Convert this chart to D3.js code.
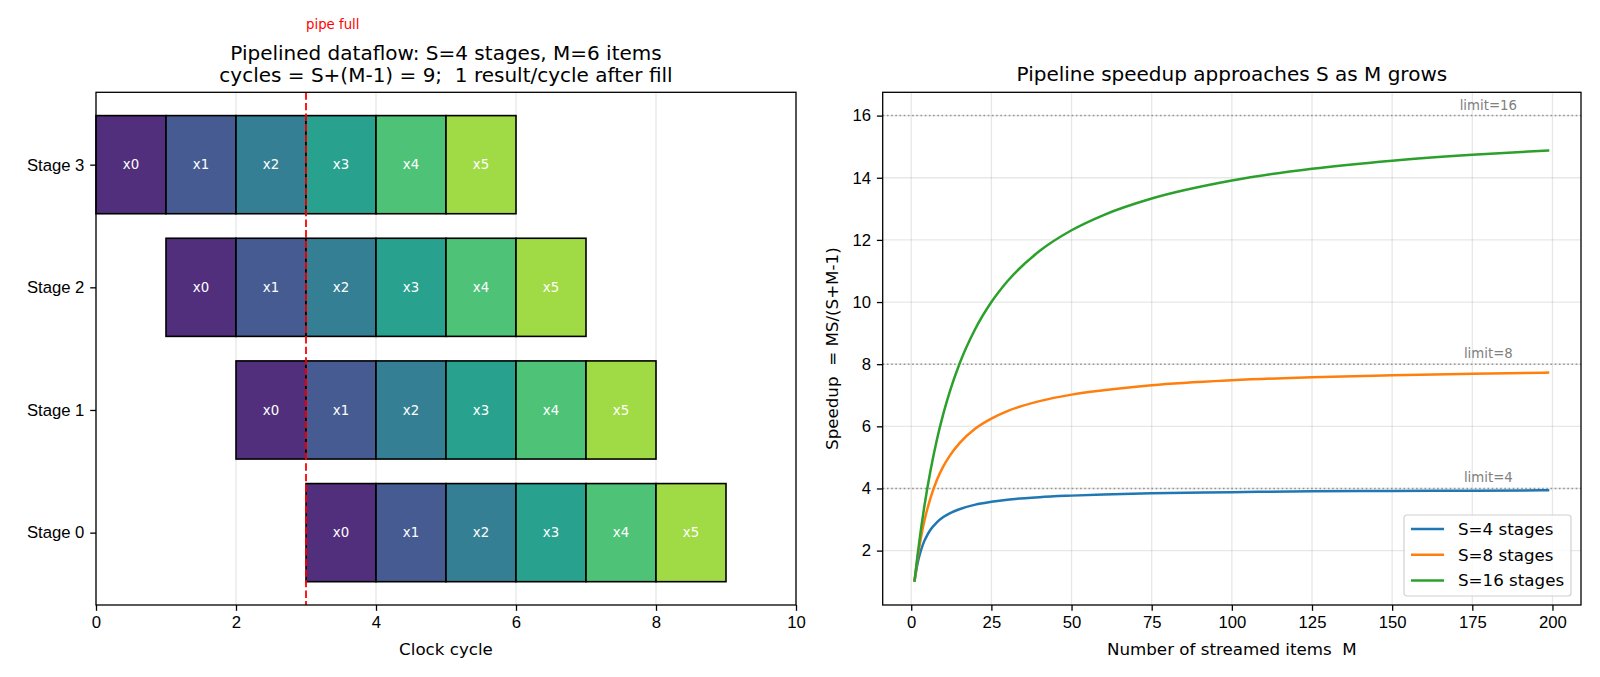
<!DOCTYPE html>
<html lang="en">
<head>
  <meta charset="UTF-8" />
  <title>Pipelined dataflow</title>
  <script src="https://d3js.org/d3.v7.min.js"></script>
  <style>
    body { margin: 0; padding: 0; background: #fff; }
    svg { display: block; font-family: 'DejaVu Sans', sans-serif; }
    .tick text { font-size: 16.7px; fill: #000; }
    .tick line { stroke: #000; stroke-width: 1.3; }
  </style>
</head>
<body>
  <svg width="1600" height="677"></svg>

  <script>
    // ---- left panel data
    const stages = ["Stage 0", "Stage 1", "Stage 2", "Stage 3"];
    const stageStart = [3, 2, 1, 0];          // first cycle for each stage
    const items = ["x0", "x1", "x2", "x3", "x4", "x5"];
    const cycleTicks = [0, 2, 4, 6, 8, 10];
    const pipeFull = 3;

    // ---- right panel data
    const mValues = [1, 2, 3, 4, 5, 6, 8, 10, 12, 15, 20, 25, 30, 40, 50, 60, 75, 100, 125, 150, 175, 199];
    const speedS4  = [1, 1.6, 2.0, 2.29, 2.5, 2.67, 2.91, 3.08, 3.2, 3.33, 3.48, 3.57, 3.64, 3.72, 3.77, 3.81, 3.85, 3.88, 3.91, 3.92, 3.93, 3.94];
    const speedS8  = [1, 1.78, 2.4, 2.91, 3.33, 3.69, 4.27, 4.71, 5.05, 5.45, 5.93, 6.25, 6.49, 6.81, 7.02, 7.16, 7.32, 7.48, 7.58, 7.64, 7.69, 7.73];
    const speedS16 = [1, 1.88, 2.67, 3.37, 4.0, 4.57, 5.57, 6.4, 7.11, 8.0, 9.14, 10.0, 10.67, 11.64, 12.31, 12.8, 13.33, 13.91, 14.29, 14.55, 14.74, 14.88];
    const seriesNames = ["S=4 stages", "S=8 stages", "S=16 stages"];
    const limits = [4, 8, 16];
    const mTicks = [0, 25, 50, 75, 100, 125, 150, 175, 200];
    const speedTicks = [2, 4, 6, 8, 10, 12, 14, 16];

    const svg = d3.select("svg");
    svg.append("rect").attr("width", 1600).attr("height", 677).attr("fill", "#fff");

    const plotTop = 92.3, plotBottom = 605;
    const TICK = 5.8;
    const itemColor = d3.scaleOrdinal().domain(items)
      .range(d3.range(6).map(i => d3.interpolateViridis(0.1 + i * 0.15)));

    // ================= left: pipeline diagram =================
    const L = { x0: 96, x1: 796 };
    const x = d3.scaleLinear().domain([0, 10]).range([L.x0, L.x1]);
    const y = d3.scaleLinear().domain([-0.59, 3.59]).range([plotBottom, plotTop]);
    const gl = svg.append("g");

    gl.selectAll(".vgrid").data(cycleTicks).join("line")
      .attr("x1", d => x(d)).attr("x2", d => x(d))
      .attr("y1", plotTop).attr("y2", plotBottom)
      .attr("stroke", "#b0b0b0").attr("stroke-opacity", 0.3).attr("stroke-width", 1.3);

    const cells = [];
    stages.forEach((s, si) => items.forEach((it, i) => cells.push({ si, it, c: stageStart[si] + i })));

    const cell = gl.selectAll(".cell").data(cells).join("g");
    cell.append("rect")
      .attr("x", d => x(d.c)).attr("width", d => x(d.c + 1) - x(d.c))
      .attr("y", d => y(d.si + 0.4)).attr("height", d => y(d.si - 0.4) - y(d.si + 0.4))
      .attr("fill", d => itemColor(d.it)).attr("fill-opacity", 0.95)
      .attr("stroke", "#000").attr("stroke-width", 1.6);
    cell.append("text")
      .attr("x", d => x(d.c + 0.5)).attr("y", d => y(d.si))
      .attr("dy", "0.35em").attr("text-anchor", "middle")
      .attr("fill", "#fff").attr("font-size", 13.3)
      .text(d => d.it);

    gl.append("line")
      .attr("x1", x(pipeFull)).attr("x2", x(pipeFull))
      .attr("y1", plotTop).attr("y2", plotBottom)
      .attr("stroke", "red").attr("stroke-width", 1.8).attr("stroke-dasharray", "7.4,3.2");
    gl.append("text").attr("x", x(pipeFull)).attr("y", 29)
      .attr("fill", "red").attr("font-size", 13.3).text("pipe full");

    gl.append("g").attr("transform", `translate(0,${plotBottom})`)
      .call(d3.axisBottom(x).tickValues(cycleTicks).tickSize(TICK).tickPadding(TICK).tickFormat(d3.format("d")))
      .call(g => g.select(".domain").remove());
    gl.append("g").attr("transform", `translate(${L.x0},0)`)
      .call(d3.axisLeft(y).tickValues(d3.range(stages.length)).tickSize(TICK).tickPadding(TICK).tickFormat(i => stages[i]))
      .call(g => g.select(".domain").remove());
    gl.append("rect").attr("x", L.x0).attr("y", plotTop).attr("width", L.x1 - L.x0).attr("height", plotBottom - plotTop)
      .attr("fill", "none").attr("stroke", "#000").attr("stroke-width", 1.3);

    gl.append("text").attr("x", (L.x0 + L.x1) / 2).attr("y", 655)
      .attr("text-anchor", "middle").attr("font-size", 16.7).text("Clock cycle");

    // two-line title as one text element
    const title = gl.append("text").attr("text-anchor", "middle").attr("font-size", 20)
      .attr("xml:space", "preserve").style("white-space", "pre");
    title.append("tspan").attr("x", (L.x0 + L.x1) / 2).attr("y", 60)
      .text("Pipelined dataflow: S=4 stages, M=6 items");
    title.append("tspan").attr("x", (L.x0 + L.x1) / 2).attr("y", 81.5)
      .text("cycles = S+(M-1) = 9;  1 result/cycle after fill");

    // ================= right: speedup curves =================
    const R = { x0: 882.7, x1: 1581 };
    const xr = d3.scaleLinear().domain([-8.9, 208.9]).range([R.x0, R.x1]);
    const yr = d3.scaleLinear().domain([0.25, 16.75]).range([plotBottom, plotTop]);
    const gr = svg.append("g");

    gr.selectAll(".vg").data(mTicks).join("line")
      .attr("x1", d => xr(d)).attr("x2", d => xr(d)).attr("y1", plotTop).attr("y2", plotBottom)
      .attr("stroke", "#b0b0b0").attr("stroke-opacity", 0.3).attr("stroke-width", 1.3);
    gr.selectAll(".hg").data(speedTicks).join("line")
      .attr("y1", d => yr(d)).attr("y2", d => yr(d)).attr("x1", R.x0).attr("x2", R.x1)
      .attr("stroke", "#b0b0b0").attr("stroke-opacity", 0.3).attr("stroke-width", 1.3);

    gr.selectAll(".lim").data(limits).join("line")
      .attr("y1", d => yr(d)).attr("y2", d => yr(d)).attr("x1", R.x0).attr("x2", R.x1)
      .attr("stroke", "#808080").attr("stroke-opacity", 0.8).attr("stroke-width", 1.5)
      .attr("stroke-dasharray", "1.6,2.6");
    gr.selectAll(".limtxt").data(limits).join("text")
      .attr("x", xr(180)).attr("y", d => yr(d) - 6)
      .attr("text-anchor", "middle").attr("font-size", 13.3).attr("fill", "#808080")
      .text(d => `limit=${d}`);

    const series = [speedS4, speedS8, speedS16];
    const colors = ["#1f77b4", "#ff7f0e", "#2ca02c"];
    const line = d3.line().x((d, i) => xr(mValues[i])).y(d => yr(d)).curve(d3.curveMonotoneX);
    gr.selectAll(".curve").data(series).join("path")
      .attr("d", line).attr("fill", "none")
      .attr("stroke", (d, i) => colors[i]).attr("stroke-width", 2.5);

    gr.append("g").attr("transform", `translate(0,${plotBottom})`)
      .call(d3.axisBottom(xr).tickValues(mTicks).tickSize(TICK).tickPadding(TICK).tickFormat(d3.format("d")))
      .call(g => g.select(".domain").remove());
    gr.append("g").attr("transform", `translate(${R.x0},0)`)
      .call(d3.axisLeft(yr).tickValues(speedTicks).tickSize(TICK).tickPadding(TICK).tickFormat(d3.format("d")))
      .call(g => g.select(".domain").remove());
    gr.append("rect").attr("x", R.x0).attr("y", plotTop).attr("width", R.x1 - R.x0).attr("height", plotBottom - plotTop)
      .attr("fill", "none").attr("stroke", "#000").attr("stroke-width", 1.3);

    // legend
    const lg = gr.append("g").attr("transform", "translate(1404,515)");
    lg.append("rect").attr("width", 167).attr("height", 81).attr("rx", 3)
      .attr("fill", "#fff").attr("fill-opacity", 0.8).attr("stroke", "#d0d0d0").attr("stroke-width", 1.2);
    seriesNames.forEach((n, i) => {
      const yy = 14 + i * 25.7;
      lg.append("line").attr("x1", 7).attr("x2", 40).attr("y1", yy).attr("y2", yy)
        .attr("stroke", colors[i]).attr("stroke-width", 2.5);
      lg.append("text").attr("x", 54).attr("y", yy).attr("dy", "0.35em")
        .attr("font-size", 16.7).text(n);
    });

    gr.append("text").attr("x", (R.x0 + R.x1) / 2).attr("y", 655)
      .attr("text-anchor", "middle").attr("font-size", 16.7).attr("xml:space", "preserve")
      .style("white-space", "pre").text("Number of streamed items  M");
    gr.append("text").attr("transform", `translate(838,${(plotTop + plotBottom) / 2}) rotate(-90)`)
      .attr("text-anchor", "middle").attr("font-size", 16.7).attr("xml:space", "preserve")
      .style("white-space", "pre").text("Speedup  = MS/(S+M-1)");
    gr.append("text").attr("x", (R.x0 + R.x1) / 2).attr("y", 81)
      .attr("text-anchor", "middle").attr("font-size", 20).text("Pipeline speedup approaches S as M grows");
  </script>
</body>
</html>
